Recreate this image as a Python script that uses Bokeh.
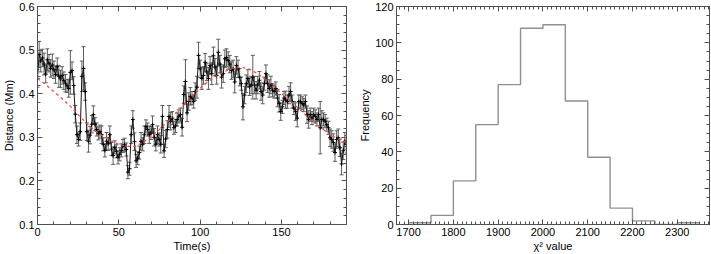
from bokeh.plotting import figure
from bokeh.layouts import row
from bokeh.models import (ColumnDataSource, Whisker, TeeHead, LinearAxis,
                          Range1d, SingleIntervalTicker, CustomJSTickFormatter)
from bokeh.embed import file_html
from bokeh.resources import INLINE

# ---------------- data: left panel ----------------
distance = [
    0.435, 0.490, 0.475, 0.482, 0.468, 0.445, 0.478, 0.470, 0.458, 0.466,
    0.455, 0.444, 0.462, 0.440, 0.434, 0.442, 0.430, 0.424, 0.418, 0.412,
    0.449, 0.453, 0.419, 0.353, 0.306, 0.295, 0.313, 0.440, 0.458, 0.405,
    0.313, 0.291, 0.305, 0.330, 0.352, 0.330, 0.318, 0.309, 0.313, 0.306,
    0.284, 0.270, 0.291, 0.285, 0.306, 0.273, 0.258, 0.277, 0.268, 0.254,
    0.261, 0.270, 0.280, 0.283, 0.272, 0.220, 0.228, 0.306, 0.341, 0.290,
    0.246, 0.252, 0.265, 0.291, 0.284, 0.306, 0.325, 0.318, 0.306, 0.310,
    0.329, 0.300, 0.284, 0.306, 0.295, 0.284, 0.348, 0.269, 0.296, 0.318,
    0.348, 0.337, 0.344, 0.322, 0.326, 0.341, 0.348, 0.352, 0.323, 0.398,
    0.428, 0.356, 0.382, 0.394, 0.390, 0.382, 0.405, 0.415, 0.488, 0.457,
    0.435, 0.442, 0.472, 0.450, 0.435, 0.465, 0.446, 0.487, 0.461, 0.442,
    0.495, 0.468, 0.438, 0.446, 0.480, 0.483, 0.476, 0.468, 0.453, 0.457,
    0.427, 0.465, 0.457, 0.438, 0.423, 0.370, 0.397, 0.423, 0.435, 0.416,
    0.420, 0.438, 0.420, 0.408, 0.420, 0.431, 0.405, 0.397, 0.423, 0.446,
    0.423, 0.412, 0.420, 0.408, 0.405, 0.412, 0.390, 0.378, 0.359, 0.370,
    0.390, 0.386, 0.382, 0.397, 0.405, 0.382, 0.367, 0.359, 0.344, 0.382,
    0.382, 0.378, 0.374, 0.382, 0.352, 0.341, 0.352, 0.344, 0.352, 0.348,
    0.341, 0.352, 0.322, 0.341, 0.341, 0.337, 0.329, 0.322, 0.299, 0.295,
    0.288, 0.265, 0.295, 0.299, 0.276, 0.239, 0.269, 0.291, 0.284,
]
distance_err = [
    0.020, 0.030, 0.025, 0.020, 0.025, 0.020, 0.025, 0.020, 0.020, 0.025,
    0.020, 0.020, 0.020, 0.025, 0.020, 0.020, 0.020, 0.020, 0.015, 0.020,
    0.050, 0.020, 0.020, 0.020, 0.020, 0.015, 0.020, 0.035, 0.050, 0.020,
    0.020, 0.025, 0.020, 0.020, 0.020, 0.015, 0.015, 0.015, 0.015, 0.020,
    0.015, 0.015, 0.020, 0.015, 0.020, 0.015, 0.020, 0.015, 0.015, 0.015,
    0.015, 0.015, 0.015, 0.015, 0.015, 0.015, 0.015, 0.020, 0.020, 0.020,
    0.015, 0.015, 0.015, 0.020, 0.015, 0.020, 0.015, 0.015, 0.020, 0.015,
    0.020, 0.020, 0.015, 0.020, 0.015, 0.020, 0.025, 0.015, 0.020, 0.020,
    0.025, 0.020, 0.015, 0.015, 0.015, 0.015, 0.015, 0.015, 0.020, 0.020,
    0.050, 0.020, 0.020, 0.020, 0.015, 0.015, 0.020, 0.025, 0.030, 0.020,
    0.025, 0.020, 0.020, 0.020, 0.025, 0.020, 0.025, 0.020, 0.020, 0.020,
    0.030, 0.020, 0.025, 0.020, 0.020, 0.020, 0.020, 0.020, 0.020, 0.020,
    0.025, 0.020, 0.020, 0.020, 0.015, 0.030, 0.020, 0.020, 0.020, 0.020,
    0.020, 0.050, 0.020, 0.020, 0.020, 0.020, 0.020, 0.020, 0.015, 0.020,
    0.020, 0.020, 0.020, 0.015, 0.015, 0.015, 0.020, 0.020, 0.020, 0.015,
    0.015, 0.020, 0.015, 0.020, 0.020, 0.015, 0.015, 0.020, 0.020, 0.015,
    0.015, 0.015, 0.015, 0.015, 0.020, 0.020, 0.015, 0.015, 0.015, 0.015,
    0.015, 0.015, 0.060, 0.020, 0.015, 0.015, 0.015, 0.015, 0.020, 0.020,
    0.020, 0.020, 0.020, 0.020, 0.020, 0.025, 0.020, 0.020, 0.020,
]
time_end = 190.0
time_s = [i * time_end / (len(distance) - 1) for i in range(len(distance))]

fit_time = [0, 5, 10, 15, 20, 25, 30, 35, 40, 45, 50, 55, 60, 65, 70, 75, 80,
            85, 90, 95, 100, 105, 110, 115, 120, 125, 130, 135, 140, 145, 150,
            155, 160, 165, 170, 175, 180, 185, 190]
fit_distance = [0.435, 0.421, 0.405, 0.389, 0.372, 0.352, 0.333, 0.316, 0.303,
                0.292, 0.284, 0.279, 0.279, 0.289, 0.302, 0.318, 0.336, 0.355,
                0.374, 0.395, 0.413, 0.428, 0.441, 0.451, 0.458, 0.461, 0.457,
                0.447, 0.433, 0.417, 0.401, 0.385, 0.368, 0.351, 0.335, 0.320,
                0.306, 0.296, 0.288]

# ---------------- data: right panel ----------------
bin_left = [1700, 1750, 1800, 1850, 1900, 1950, 2000, 2050, 2100, 2150,
            2200, 2250, 2300]
bin_width = 50
frequency = [1, 5, 24, 55, 77, 108, 110, 68, 37, 9, 2, 0, 1]

FONT = "Liberation Sans"
AX_COLOR = "#505050"


def style(p, xtick, ytick):
    p.outline_line_color = AX_COLOR
    p.outline_line_width = 1
    p.xgrid.visible = False
    p.ygrid.visible = False
    p.background_fill_color = "white"
    p.border_fill_color = "white"
    for ax in p.xaxis + p.yaxis:
        ax.axis_line_color = AX_COLOR
        ax.major_tick_line_color = AX_COLOR
        ax.minor_tick_line_color = AX_COLOR
        ax.major_tick_in = 5
        ax.major_tick_out = 0
        ax.minor_tick_in = 3
        ax.minor_tick_out = 0
        ax.major_label_text_font = FONT
        ax.major_label_text_font_size = "11px"
        ax.major_label_text_color = "black"
        ax.axis_label_text_font = FONT
        ax.axis_label_text_font_size = "11px"
        ax.axis_label_text_font_style = "normal"
        ax.axis_label_text_color = "black"
        ax.major_label_standoff = 3
        ax.axis_label_standoff = 1
    p.xaxis[0].ticker = SingleIntervalTicker(interval=xtick[0], num_minor_ticks=xtick[1])
    p.yaxis[0].ticker = SingleIntervalTicker(interval=ytick[0], num_minor_ticks=ytick[1])
    # mirrored axes (ticks only, empty labels)
    for loc, tk in (("above", xtick), ("right", ytick)):
        ax = LinearAxis(ticker=SingleIntervalTicker(interval=tk[0], num_minor_ticks=tk[1]),
                        formatter=CustomJSTickFormatter(code="return ''"))
        ax.axis_line_color = AX_COLOR
        ax.major_tick_line_color = AX_COLOR
        ax.minor_tick_line_color = AX_COLOR
        ax.major_tick_in = 5
        ax.major_tick_out = 0
        ax.minor_tick_in = 3
        ax.minor_tick_out = 0
        ax.major_label_text_font_size = "1px"
        ax.major_label_standoff = 0
        ax.axis_label = None
        p.add_layout(ax, loc)


H = 254

# ---------------- left panel ----------------
p1 = figure(width=356, height=H, x_range=Range1d(0, 190), y_range=Range1d(0.1, 0.6001),
            output_backend="svg", toolbar_location=None,
            min_border_top=6, min_border_right=10, min_border_left=4, min_border_bottom=0)
p1.xaxis.axis_label = "Time(s)"
p1.yaxis.axis_label = "Distance (Mm)"
style(p1, (50, 5), (0.1, 5))

src = ColumnDataSource(dict(
    t=time_s, d=distance,
    lo=[d - e for d, e in zip(distance, distance_err)],
    hi=[d + e for d, e in zip(distance, distance_err)],
))
ERR_COLOR = "#5c5c5c"
p1.add_layout(Whisker(source=src, base="t", upper="hi", lower="lo",
                      line_color=ERR_COLOR, line_width=1,
                      upper_head=TeeHead(size=4, line_color=ERR_COLOR, line_width=1),
                      lower_head=TeeHead(size=4, line_color=ERR_COLOR, line_width=1)))
p1.line("t", "d", source=src, line_color="#1a1a1a", line_width=1)
p1.scatter("t", "d", source=src, marker="cross", size=4, line_color="black", line_width=1)
p1.line(fit_time, fit_distance, line_color="#f04a3a", line_width=1.2, line_dash="3 3")

# ---------------- right panel ----------------
p2 = figure(width=355, height=H, x_range=Range1d(1673, 2372), y_range=Range1d(0, 120.01),
            output_backend="svg", toolbar_location=None,
            min_border_top=6, min_border_right=2, min_border_left=4, min_border_bottom=0)
p2.xaxis.axis_label = "χ² value"
p2.yaxis.axis_label = "Frequency"
style(p2, (100, 10), (20, 4))

step_x = bin_left + [bin_left[-1] + bin_width]
step_y = frequency + [frequency[-1]]
p2.step(step_x, step_y, mode="after", line_color="#909090", line_width=1.4)

layout = row(p1, p2)
open("out.html", "w").write(file_html(layout, INLINE))
